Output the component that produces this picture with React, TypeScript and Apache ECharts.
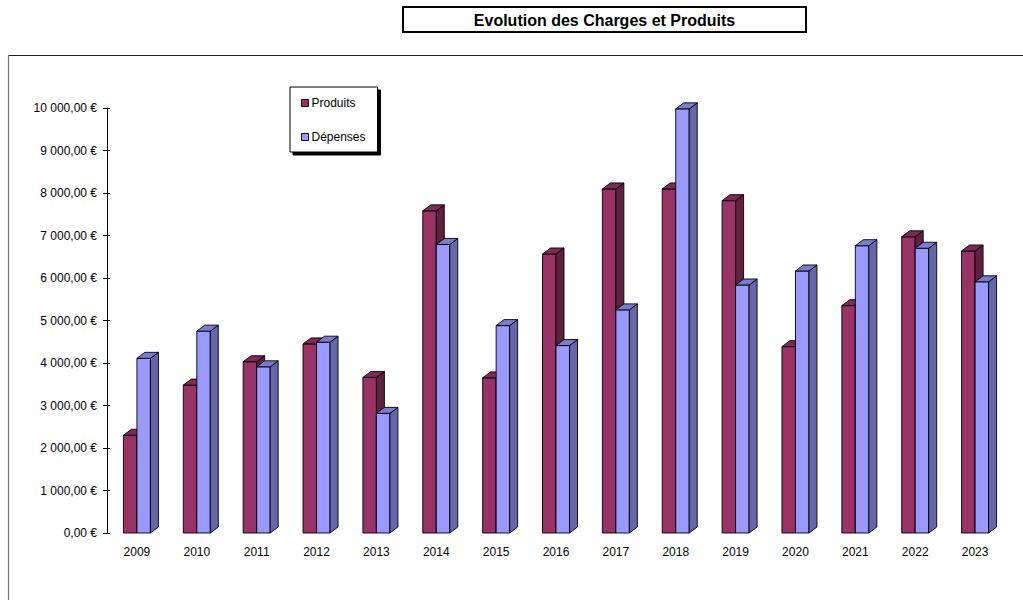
import React, { useEffect, useRef } from "react";
import * as echarts from "echarts";

const years = ["2009", "2010", "2011", "2012", "2013", "2014", "2015", "2016", "2017", "2018", "2019", "2020", "2021", "2022", "2023"];
const produits = [2300, 3480, 4030, 4450, 3660, 7580, 3650, 6565, 8095, 8095, 7820, 4385, 5350, 6970, 6635];
const depenses = [4110, 4750, 3910, 4490, 2815, 6790, 4880, 4410, 5250, 9980, 5835, 6165, 6760, 6700, 5910];
const yTicks = [0, 10000, 1000];

const FONT = "'Liberation Sans', Arial, sans-serif";

function fmtEuro(v: number): string {
  const parts = v.toFixed(2).split(".");
  const intPart = parts[0].replace(/\B(?=(\d{3})+(?!\d))/g, " ");
  return intPart + "," + parts[1] + " €";
}

function makeRender(side: number, front: string, sideCol: string, topCol: string) {
  return (params: any, api: any) => {
    const idx = api.value(0);
    const val = api.value(1);
    const top = api.coord([idx, val]);
    const base = api.coord([idx, 0]);
    const w = 13.5;
    const dx = 8;
    const dy = 6;
    const cx = top[0];
    const x0 = side === 0 ? cx - w : cx;
    const x1 = x0 + w;
    const yT = top[1];
    const yB = base[1];
    const stroke = { stroke: "#000", lineWidth: 0.9 };
    return {
      type: "group",
      children: [
        {
          type: "rect",
          shape: { x: x0, y: yT, width: w, height: yB - yT },
          style: { fill: front, ...stroke },
        },
        {
          type: "polygon",
          shape: { points: [[x1, yB], [x1 + dx, yB - dy], [x1 + dx, yT - dy], [x1, yT]] },
          style: { fill: sideCol, ...stroke },
        },
        {
          type: "polygon",
          shape: { points: [[x0, yT], [x0 + dx, yT - dy], [x1 + dx, yT - dy], [x1, yT]] },
          style: { fill: topCol, ...stroke },
        },
      ],
    };
  };
}

export default function App() {
  const ref = useRef<HTMLDivElement>(null);
  useEffect(() => {
    if (!ref.current) return;
    const chart = echarts.init(ref.current, undefined, { renderer: "svg" });
    const option: any = {
      animation: false,
      backgroundColor: "#fff",
      grid: { left: 107, right: 18, top: 108, bottom: 67, containLabel: false },
      legend: {
        orient: "vertical",
        left: 290,
        top: 87,
        data: ["Produits", "Dépenses"],
        icon: "rect",
        itemWidth: 7,
        itemHeight: 7,
        itemGap: 22,
        padding: [10, 12, 9, 11],
        backgroundColor: "#fff",
        borderColor: "#000",
        borderWidth: 1,
        borderRadius: 0,
        shadowColor: "rgba(0,0,0,1)",
        shadowBlur: 0,
        shadowOffsetX: 3,
        shadowOffsetY: 3,
        itemStyle: { borderColor: "#000", borderWidth: 1 },
        textStyle: { fontFamily: FONT, fontSize: 12, color: "#000", padding: [0, 0, 0, -2] },
        selectedMode: false,
      },
      xAxis: {
        type: "category",
        data: years,
        boundaryGap: true,
        axisLine: { show: false },
        axisTick: { show: false },
        axisLabel: { color: "#000", fontFamily: FONT, fontSize: 12, margin: 13 },
        splitLine: { show: false },
      },
      yAxis: [
        {
          type: "value",
          min: yTicks[0],
          max: yTicks[1],
          interval: yTicks[2],
          axisLine: { show: true, lineStyle: { color: "#000", width: 1 } },
          axisTick: { show: true, length: 4, lineStyle: { color: "#000" } },
          axisLabel: { color: "#000", fontFamily: FONT, fontSize: 12, margin: 10, formatter: (v: number) => fmtEuro(v) },
          splitLine: { show: false },
        },
        {
          type: "value",
          position: "left",
          min: yTicks[0],
          max: yTicks[1],
          interval: yTicks[2],
          axisLine: { show: false },
          axisTick: { show: true, inside: true, length: 3, lineStyle: { color: "#000" } },
          axisLabel: { show: false },
          splitLine: { show: false },
        },
      ],
      series: [
        {
          name: "Produits",
          type: "custom",
          clip: false,
          itemStyle: { color: "#993366" },
          encode: { x: 0, y: 1 },
          data: produits.map((v, i) => [i, v]),
          renderItem: makeRender(0, "#993366", "#602040", "#7d2a55"),
        },
        {
          name: "Dépenses",
          type: "custom",
          clip: false,
          itemStyle: { color: "#9999FF" },
          encode: { x: 0, y: 1 },
          data: depenses.map((v, i) => [i, v]),
          renderItem: makeRender(1, "#9999FF", "#6666AA", "#7b7bd0"),
        },
      ],
      graphic: [
        {
          type: "line",
          shape: { x1: 8.5, y1: 55.5, x2: 1023, y2: 55.5 },
          style: { stroke: "#222", lineWidth: 1 },
          silent: true,
        },
        {
          type: "line",
          shape: { x1: 8.5, y1: 55.5, x2: 8.5, y2: 600 },
          style: { stroke: "#777", lineWidth: 1.2 },
          silent: true,
        },
        {
          type: "rect",
          shape: { x: 403, y: 7, width: 403, height: 25 },
          style: { fill: "#fff", stroke: "#000", lineWidth: 2 },
          silent: true,
        },
        {
          type: "text",
          x: 604.5,
          y: 20,
          style: {
            text: "Evolution des Charges et Produits",
            fontFamily: FONT,
            fontWeight: "bold",
            fontSize: 16,
            fill: "#000",
            align: "center",
            verticalAlign: "middle",
          },
          silent: true,
        },
      ],
    };
    chart.setOption(option);
    return () => chart.dispose();
  }, []);
  return (
    <div
      ref={ref}
      style={{ position: "fixed", left: 0, top: 0, width: "1023px", height: "600px" }}
    />
  );
}
